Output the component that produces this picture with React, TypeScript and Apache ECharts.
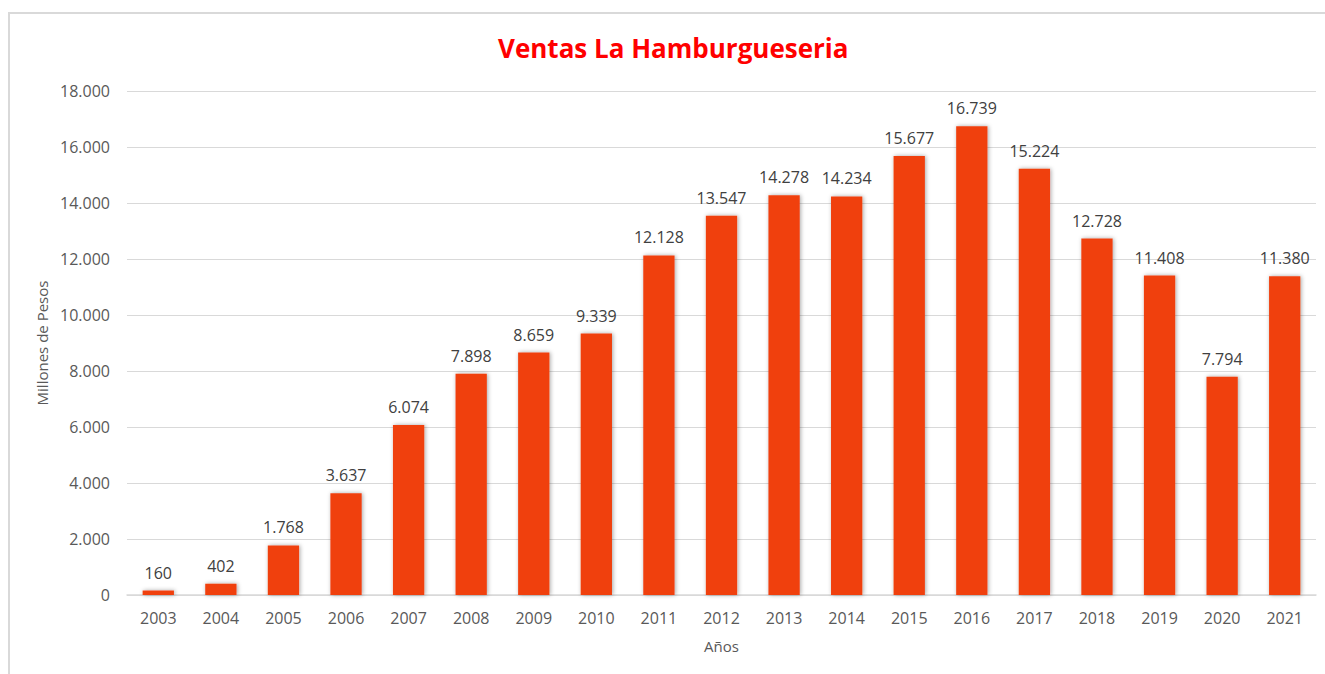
import React, { useEffect, useRef } from "react";
import * as echarts from "echarts";

const years = ["2003","2004","2005","2006","2007","2008","2009","2010","2011","2012","2013","2014","2015","2016","2017","2018","2019","2020","2021"];
const ventas = [160, 402, 1768, 3637, 6074, 7898, 8659, 9339, 12128, 13547, 14278, 14234, 15677, 16739, 15224, 12728, 11408, 7794, 11380];

const fmt = (v: number) => String(v).replace(/\B(?=(\d{3})+(?!\d))/g, ".");

export default function App() {
  const ref = useRef<HTMLDivElement>(null);
  useEffect(() => {
    if (!ref.current) return;
    const chart = echarts.init(ref.current, null, { renderer: "svg" });
    const font = "'Open Sans', 'Liberation Sans', sans-serif";
    chart.setOption({
      animation: false,
      textStyle: { fontFamily: font },
      title: {
        text: "Ventas La Hamburgueseria",
        left: 493,
        top: 30,
        textStyle: { color: "#FF0000", fontSize: 26, fontWeight: "bold", fontFamily: font },
      },
      grid: { left: 127, right: 9, top: 91, bottom: 79, containLabel: false },
      xAxis: {
        type: "category",
        data: years,
        name: "Años",
        nameLocation: "middle",
        nameGap: 43,
        nameTextStyle: { color: "#595959", fontSize: 15, fontFamily: font },
        axisLine: { lineStyle: { color: "#d9d9d9", width: 1.5 } },
        axisTick: { show: false },
        axisLabel: { color: "#595959", fontSize: 16, margin: 15, fontFamily: font },
      },
      yAxis: {
        type: "value",
        min: 0,
        max: 18000,
        interval: 2000,
        name: "Millones de Pesos",
        nameLocation: "middle",
        nameGap: 74,
        nameTextStyle: { color: "#595959", fontSize: 15, fontFamily: font },
        axisLine: { show: false },
        axisTick: { show: false },
        splitLine: { lineStyle: { color: "#d9d9d9", width: 1 } },
        axisLabel: { color: "#595959", fontSize: 16, margin: 17, formatter: (v: number) => fmt(v), fontFamily: font },
      },
      series: [
        {
          type: "bar",
          data: ventas,
          barCategoryGap: "50%",
          itemStyle: {
            color: "#F04010",
            shadowColor: "rgba(0,0,0,0.35)",
            shadowBlur: 4,
            shadowOffsetX: 1,
            shadowOffsetY: 0,
          },
          label: {
            show: true,
            position: "top",
            distance: 10,
            color: "#404040",
            fontSize: 16,
            fontFamily: font,
            formatter: (p: any) => fmt(p.value),
          },
        },
      ],
    });
    return () => chart.dispose();
  }, []);
  return (
    <div style={{ position: "fixed", left: 0, top: 0, width: 1325, height: 674, overflow: "hidden", background: "#fff" }}>
      <div style={{ position: "absolute", left: 8, top: 12, width: 1340, height: 700, border: "2px solid #d9d9d9", boxSizing: "border-box" }} />
      <div ref={ref} style={{ position: "absolute", left: 0, top: 0, width: 1325, height: 674 }} />
    </div>
  );
}
